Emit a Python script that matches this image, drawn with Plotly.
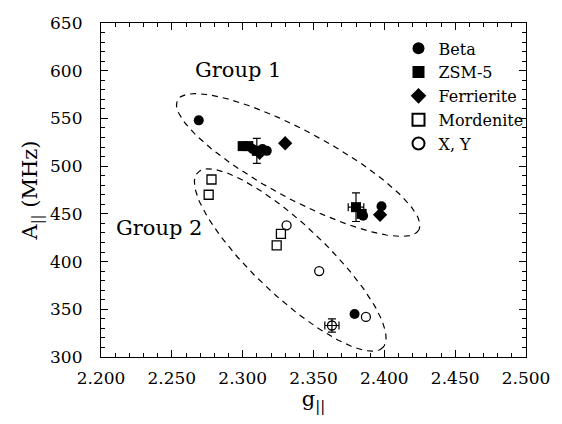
import numpy as np
import plotly.graph_objects as go

# ---- data ----
beta_g = [2.269, 2.307, 2.314, 2.317, 2.385, 2.398, 2.379]
beta_A = [548, 518, 518, 516, 448, 458, 345]

zsm_g = [2.300, 2.304, 2.384]
zsm_A = [521, 521, 450]
zsm_err_g = [2.310, 2.380]
zsm_err_A = [516, 457]
zsm_err_dA = [13, 15]
zsm_err_dg = [0.0, 0.0055]

fer_g = [2.312, 2.330, 2.397]
fer_A = [514, 524, 449]

mor_g = [2.278, 2.276, 2.327, 2.324]
mor_A = [486, 470, 429, 417]

xy_g = [2.331, 2.354, 2.387]
xy_A = [438, 390, 342]
xy_err_g = [2.363]
xy_err_A = [333]
xy_err_dg = [0.005]
xy_err_dA = [7]

# ellipse groups: centre (g, A), semi-axes in screen px, tilt in degrees
groups = {
    "Group 1": dict(cg=2.3392, cA=501.2, a=138, b=34, ang=28, lg=2.297, lA=601),
    "Group 2": dict(cg=2.3336, cA=401.6, a=128, b=36, ang=43, lg=2.241, lA=435),
}

X_RANGE = [2.2, 2.5]
Y_RANGE = [300, 650]
L, R, T, B = 101, 32, 23, 67
W, H = 562, 424
px_per_g = (W - L - R) / (X_RANGE[1] - X_RANGE[0])
px_per_A = (H - T - B) / (Y_RANGE[1] - Y_RANGE[0])

FONT = "DejaVu Serif"
fig = go.Figure()

mk = dict(color="black")
fig.add_trace(go.Scatter(x=beta_g, y=beta_A, mode="markers", name="Beta",
                         marker=dict(symbol="circle", size=10, **mk)))
fig.add_trace(go.Scatter(x=zsm_g, y=zsm_A, mode="markers", name="ZSM-5",
                         marker=dict(symbol="square", size=10, **mk)))
fig.add_trace(go.Scatter(x=zsm_err_g, y=zsm_err_A, mode="markers", showlegend=False,
                         marker=dict(symbol="square", size=10, **mk),
                         error_y=dict(type="data", array=zsm_err_dA, color="black", thickness=1.2, width=4),
                         error_x=dict(type="data", array=zsm_err_dg, color="black", thickness=1.2, width=4)))
fig.add_trace(go.Scatter(x=fer_g, y=fer_A, mode="markers", name="Ferrierite",
                         marker=dict(symbol="diamond", size=11, **mk)))
fig.add_trace(go.Scatter(x=mor_g, y=mor_A, mode="markers", name="Mordenite",
                         marker=dict(symbol="square-open", size=9, color="black", line=dict(width=1.3))))
fig.add_trace(go.Scatter(x=xy_g, y=xy_A, mode="markers", name="X, Y",
                         marker=dict(symbol="circle-open", size=9, color="black", line=dict(width=1.3))))
fig.add_trace(go.Scatter(x=xy_err_g, y=xy_err_A, mode="markers", showlegend=False,
                         marker=dict(symbol="circle-open", size=9, color="black", line=dict(width=1.3)),
                         error_y=dict(type="data", array=xy_err_dA, color="black", thickness=1.2, width=4),
                         error_x=dict(type="data", array=xy_err_dg, color="black", thickness=1.2, width=4)))

t = np.linspace(0, 2 * np.pi, 200)
for name, p in groups.items():
    th = np.radians(p["ang"])
    dx = p["a"] * np.cos(t) * np.cos(th) - p["b"] * np.sin(t) * np.sin(th)
    dy = p["a"] * np.cos(t) * np.sin(th) + p["b"] * np.sin(t) * np.cos(th)
    eg = p["cg"] + dx / px_per_g
    eA = p["cA"] - dy / px_per_A
    fig.add_trace(go.Scatter(x=eg, y=eA, mode="lines", showlegend=False, hoverinfo="skip",
                             line=dict(color="black", width=1.2, dash="6px,5px")))
    fig.add_annotation(x=p["lg"], y=p["lA"], text=name, showarrow=False,
                       font=dict(family=FONT, size=21, color="black"))

axis_common = dict(showgrid=False, zeroline=False, showline=True, linecolor="black", linewidth=1.2,
                   mirror="ticks", ticks="inside", ticklen=7, tickwidth=1.2, tickcolor="black",
                   tickfont=dict(family=FONT, size=17, color="black"))
fig.update_xaxes(range=X_RANGE, dtick=0.05, tickformat=".3f", ticklabelstandoff=5,
                 minor=dict(dtick=0.01, ticks="inside", ticklen=4, tickcolor="black", tickwidth=1),
                 title=dict(text="g<sub>||</sub>", font=dict(family=FONT, size=21, color="black"), standoff=4),
                 **axis_common)
fig.update_yaxes(range=Y_RANGE, dtick=50, ticklabelstandoff=14,
                 minor=dict(dtick=10, ticks="inside", ticklen=4, tickcolor="black", tickwidth=1),
                 title=dict(text="A<sub>||</sub> (MHz)", font=dict(family=FONT, size=21, color="black"), standoff=6),
                 **axis_common)

fig.update_layout(width=W, height=H, margin=dict(l=L, r=R, t=T, b=B),
                  plot_bgcolor="white", paper_bgcolor="white",
                  font=dict(family=FONT, color="black"),
                  legend=dict(x=0.70, y=0.975, xanchor="left", yanchor="top", bgcolor="rgba(0,0,0,0)",
                              font=dict(family=FONT, size=16, color="black"), tracegroupgap=0,
                              itemsizing="constant"))

fig.write_html("out.html")
